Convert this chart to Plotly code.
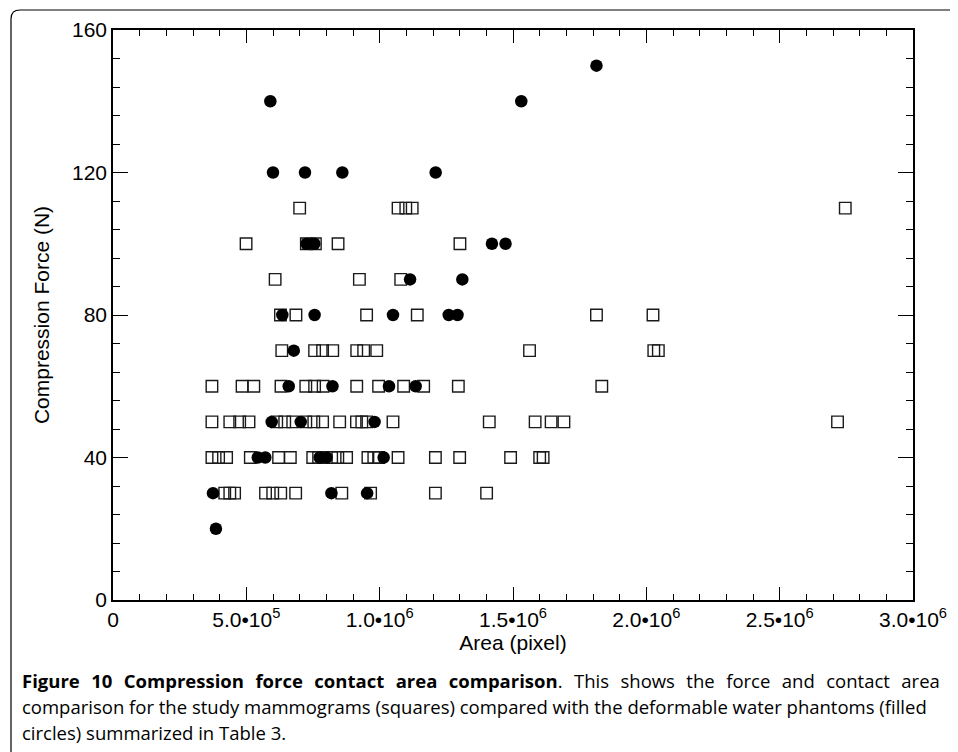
import plotly.graph_objects as go

# ---- Data: study mammograms (open squares) ----
mammo_area = [
    # 30 N
    4.19e5, 4.38e5, 4.56e5, 5.72e5, 5.99e5, 6.29e5, 6.85e5, 8.58e5, 9.66e5, 1.209e6, 1.401e6,
    # 40 N
    3.71e5, 3.96e5, 4.26e5, 5.15e5, 6.21e5, 6.65e5, 7.49e5, 7.71e5, 8.20e5, 8.43e5, 8.76e5,
    9.56e5, 9.78e5, 9.96e5, 1.069e6, 1.209e6, 1.300e6, 1.491e6, 1.600e6, 1.613e6,
    # 50 N
    3.71e5, 4.38e5, 4.75e5, 5.10e5, 6.14e5, 6.44e5, 6.74e5, 7.23e5, 7.53e5, 7.86e5, 8.50e5,
    9.13e5, 9.33e5, 9.51e5, 1.050e6, 1.411e6, 1.583e6, 1.643e6, 1.691e6, 2.717e6,
    # 60 N
    3.71e5, 4.84e5, 5.28e5, 6.30e5, 7.23e5, 7.56e5, 7.88e5, 9.14e5, 9.96e5, 1.090e6, 1.165e6,
    1.295e6, 1.833e6,
    # 70 N
    6.33e5, 7.56e5, 7.86e5, 8.24e5, 9.14e5, 9.40e5, 9.89e5, 1.562e6, 2.028e6, 2.045e6,
    # 80 N
    6.28e5, 6.86e5, 9.51e5, 1.141e6, 1.813e6, 2.025e6,
    # 90 N
    6.08e5, 9.24e5, 1.079e6,
    # 100 N
    4.99e5, 7.25e5, 7.59e5, 8.44e5, 1.301e6,
    # 110 N
    7.00e5, 1.069e6, 1.098e6, 1.122e6, 2.746e6,
]
mammo_force = (
    [30] * 11 + [40] * 20 + [50] * 20 + [60] * 13 + [70] * 10
    + [80] * 6 + [90] * 3 + [100] * 5 + [110] * 5
)

# ---- Data: deformable water phantoms (filled circles) ----
phantom_area = [
    3.86e5,
    3.75e5, 8.19e5, 9.53e5,
    5.43e5, 5.71e5, 7.75e5, 8.01e5, 1.015e6,
    5.95e5, 7.04e5, 9.81e5,
    6.59e5, 8.23e5, 1.035e6, 1.135e6,
    6.78e5,
    6.35e5, 7.56e5, 1.050e6, 1.259e6, 1.292e6,
    1.114e6, 1.310e6,
    7.26e5, 7.55e5, 1.421e6, 1.472e6,
    6.00e5, 7.20e5, 8.60e5, 1.210e6,
    5.90e5, 1.531e6,
    1.813e6,
]
phantom_force = (
    [20] + [30] * 3 + [40] * 5 + [50] * 3 + [60] * 4 + [70]
    + [80] * 5 + [90] * 2 + [100] * 4 + [120] * 4 + [140] * 2 + [150]
)

x_tickvals = [0, 5e5, 1e6, 1.5e6, 2e6, 2.5e6, 3e6]
x_ticktext = ["0", "5.0\u202210<sup>5</sup>", "1.0\u202210<sup>6</sup>", "1.5\u202210<sup>6</sup>",
              "2.0\u202210<sup>6</sup>", "2.5\u202210<sup>6</sup>", "3.0\u202210<sup>6</sup>"]
y_tickvals = [0, 40, 80, 120, 160]

caption_bold = "Figure 10 Compression force contact area comparison"
caption_line1 = ". This shows the force and contact area"
caption_line2 = "comparison for the study mammograms (squares) compared with the deformable water phantoms (filled"
caption_line3 = "circles) summarized in Table 3."

fig = go.Figure()
fig.add_trace(go.Scatter(
    x=mammo_area, y=mammo_force, mode="markers", name="Mammograms",
    marker=dict(symbol="square-open", size=11.5, color="#1a1a1a", line=dict(width=1.4, color="#1a1a1a")),
))
fig.add_trace(go.Scatter(
    x=phantom_area, y=phantom_force, mode="markers", name="Phantoms",
    marker=dict(symbol="circle", size=12.5, color="black", line=dict(width=0)),
))

# page offset (browser body margin) is 8 px
OFF = 8
W, H = 958 - OFF, 752 - OFF
L, T = 113 - OFF, 30 - OFF
pw, ph = 800, 570
R, B = W - L - pw, H - T - ph


def px(xs):  # screen x -> paper x
    return (xs - OFF - L) / pw


def py(ys):  # screen y -> paper y
    return (T + ph - (ys - OFF)) / ph


axis_font = dict(family="Liberation Sans, Arial, sans-serif", size=21, color="black")

fig.update_xaxes(
    range=[0, 3e6], tickvals=x_tickvals, ticktext=x_ticktext,
    ticks="inside", ticklen=13, tickwidth=1.2, tickcolor="black",
    minor=dict(dtick=1e5, ticks="inside", ticklen=6, tickwidth=1, tickcolor="black"),
    showline=True, linecolor="black", linewidth=1.5, mirror="ticks",
    showgrid=False, zeroline=False, tickfont=axis_font,
    title=dict(text="Area (pixel)", font=axis_font, standoff=4),
)
fig.update_yaxes(
    range=[0, 160], tickvals=y_tickvals,
    ticks="inside", ticklen=15, tickwidth=1.2, tickcolor="black",
    minor=dict(dtick=8, ticks="inside", ticklen=7, tickwidth=1, tickcolor="black"),
    showline=True, linecolor="black", linewidth=1.5, mirror="ticks",
    showgrid=False, zeroline=False, tickfont=axis_font,
    title=dict(text="Compression Force (N)", font=axis_font, standoff=17),
)

cap_font = dict(family="Open Sans, Noto Sans, sans-serif", size=18.5, color="black")
line1 = ("<b>" + caption_bold + "</b>" + caption_line1).replace(" ", " \u00a0\u200a")
fig.add_annotation(xref="paper", yref="paper", x=px(20), y=py(680), xanchor="left", yanchor="middle",
                   text=line1, showarrow=False, font=cap_font)
fig.add_annotation(xref="paper", yref="paper", x=px(20), y=py(706), xanchor="left", yanchor="middle",
                   text=caption_line2, showarrow=False, font=cap_font)
fig.add_annotation(xref="paper", yref="paper", x=px(20), y=py(732), xanchor="left", yanchor="middle",
                   text=caption_line3, showarrow=False, font=cap_font)

# outer frame with rounded top-left corner
x0, y0, r = 11, 10, 9
fig.add_shape(
    type="path", xref="paper", yref="paper",
    path=(f"M {px(x0)},{py(770)} L {px(x0)},{py(y0 + r)} "
          f"Q {px(x0)},{py(y0)} {px(x0 + r)},{py(y0)} L {px(975)},{py(y0)}"),
    line=dict(color="black", width=1.2),
)

fig.update_layout(
    width=W, height=H, margin=dict(l=L, r=R, t=T, b=B, autoexpand=False),
    paper_bgcolor="white", plot_bgcolor="white", showlegend=False,
)

fig.write_html("out.html")
